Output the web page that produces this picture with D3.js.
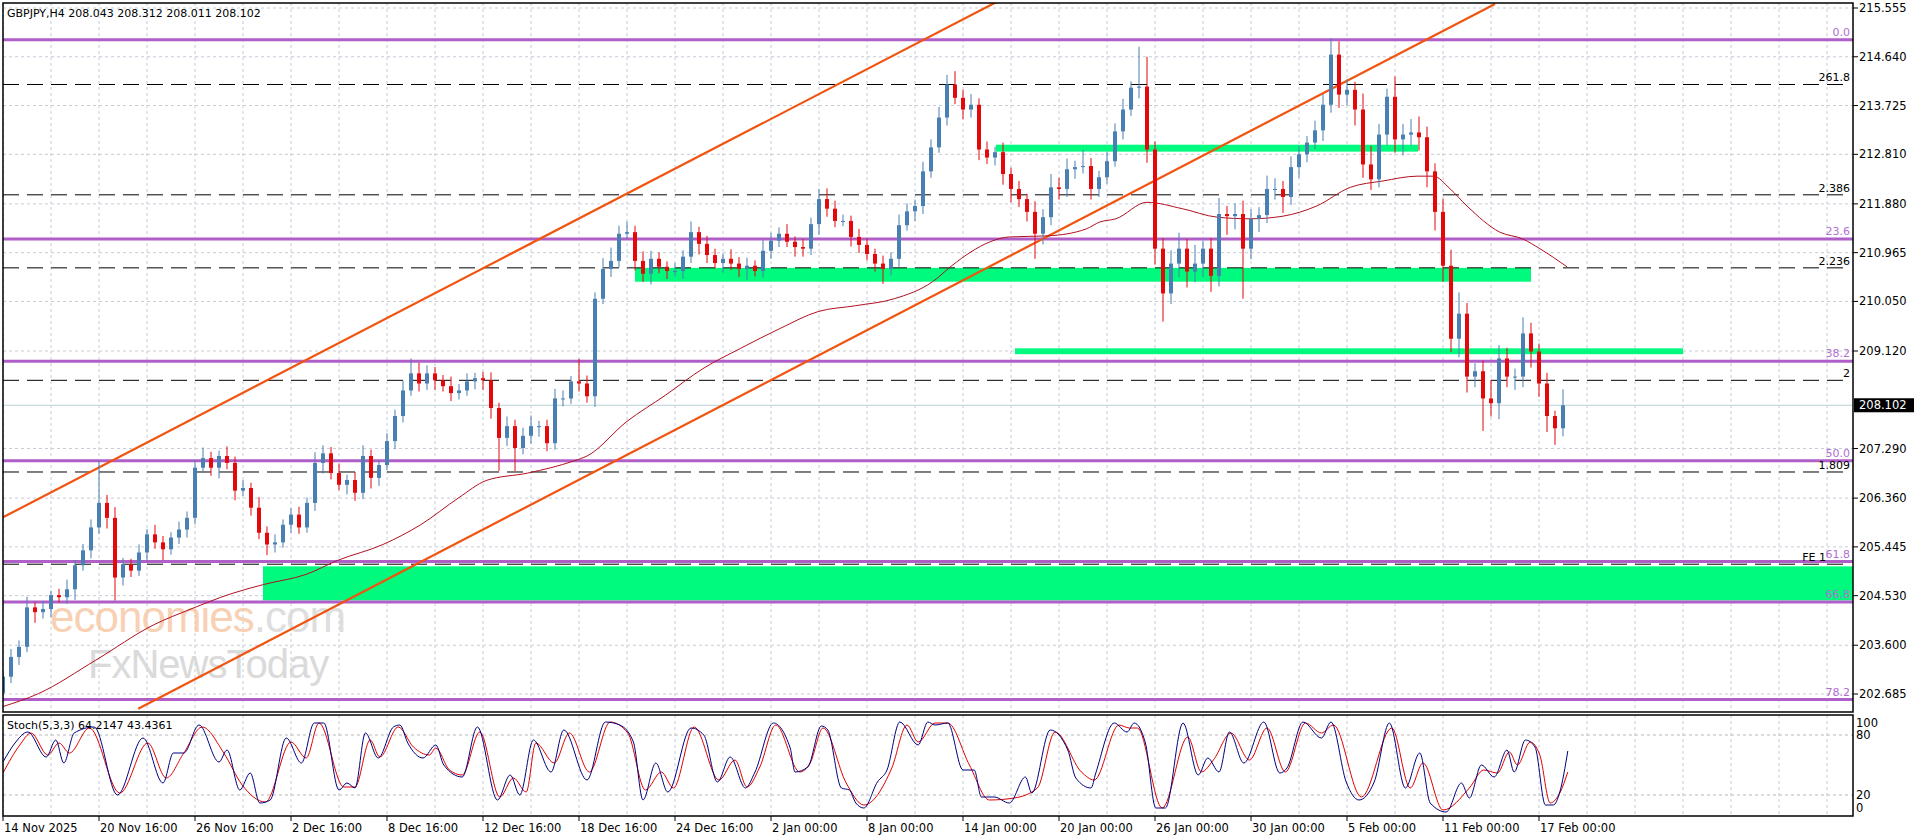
<!DOCTYPE html>
<html><head><meta charset="utf-8">
<script src="https://cdn.jsdelivr.net/npm/d3@7/dist/d3.min.js"></script>
<style>body{margin:0;background:#fff;}svg{display:block;font-family:"DejaVu Sans",sans-serif;}</style>
</head><body><svg id="c" width="1916" height="840"></svg>
<script>
const symbolTitle = "GBPJPY,H4  208.043 208.312 208.011 208.102";
const stochTitle = "Stoch(5,3,3) 64.2147 43.4361";
const firstOpen = 202.70;
const closes = [
203.01,203.38,203.57,204.31,204.22,204.28,204.54,204.50,204.65,205.10,205.38,205.81,
206.27,205.99,204.87,205.12,205.00,205.34,205.68,205.53,205.40,205.62,205.77,205.99,
206.93,207.11,206.93,207.15,207.02,206.50,206.55,206.18,205.71,205.49,205.53,205.86,
206.05,205.81,206.27,207.02,207.20,206.83,206.61,206.70,206.46,207.15,206.74,206.98,
207.43,207.90,208.38,208.70,208.51,208.70,208.57,208.46,208.33,208.38,208.55,208.61,
208.57,208.05,207.49,207.71,207.30,207.53,207.71,207.71,207.39,208.23,208.23,208.55,
208.51,208.27,210.10,210.66,210.81,211.32,211.35,210.81,210.57,210.85,210.70,210.62,
210.62,210.89,211.35,211.13,210.92,210.77,210.85,210.76,210.66,210.72,210.62,211.00,
211.19,211.32,211.17,211.07,211.04,211.50,211.97,211.79,211.56,211.56,211.26,211.11,
210.94,210.76,210.66,210.85,211.48,211.74,211.84,212.49,212.94,213.50,214.12,213.87,
213.65,213.74,212.90,212.75,212.85,212.44,212.16,211.97,211.73,211.32,211.63,212.19,
212.16,212.53,212.57,212.59,212.16,212.38,212.68,213.24,213.65,214.06,214.08,212.90,
211.04,210.20,210.76,211.04,210.61,210.76,211.04,210.53,211.69,211.65,211.69,211.04,
211.60,211.67,212.16,212.16,212.01,212.57,212.81,213.03,213.26,213.74,214.68,213.93,
214.02,213.65,212.62,212.34,213.18,213.89,213.09,213.18,213.22,213.13,212.49,211.73,
210.72,209.35,209.82,208.64,208.74,208.23,208.14,208.98,208.64,208.64,209.45,209.11,
208.51,207.90,207.67,208.102];
const wickUp = [
.10,.15,.12,.20,.10,.15,.08,.12,.18,.10,.12,.15,
.79,.15,.20,.12,.10,.15,.10,.18,.12,.10,.15,.12,
.15,.20,.12,.10,.18,.12,.15,.10,.20,.12,.15,.10,
.12,.15,.10,.20,.15,.12,.18,.10,.15,.20,.12,.10,
.15,.12,.18,.28,.20,.15,.12,.10,.18,.12,.15,.10,
.12,.15,.10,.18,.12,.15,.20,.10,.12,.18,.15,.10,
.42,.15,.12,.20,.25,.15,.20,.12,.18,.15,.12,.10,
.15,.12,.20,.10,.15,.12,.10,.18,.12,.15,.10,.20,
.15,.12,.18,.10,.15,.12,.19,.20,.15,.12,.10,.15,
.12,.10,.15,.12,.20,.15,.12,.18,.15,.20,.18,.25,
.15,.20,.12,.15,.10,.18,.12,.15,.10,.20,.15,.25,
.18,.20,.12,.30,.15,.12,.18,.15,.20,.12,.75,.56,
.15,.20,.25,.30,.18,.35,.15,.20,.30,.15,.20,.25,
.18,.15,.25,.20,.15,.20,.15,.12,.18,.20,.31,.25,
.20,.15,.30,.35,.20,.15,.38,.20,.25,.30,.20,.15,
.25,.30,.40,.20,.15,.20,.35,.25,.20,.15,.30,.20,
.15,.20,.10,.30];
const wickDn = [
.10,.12,.15,.10,.20,.12,.15,.10,.12,.20,.10,.15,
.12,.20,.43,.15,.12,.10,.15,.12,.20,.10,.12,.15,
.12,.10,.15,.20,.12,.18,.10,.15,.12,.20,.15,.10,
.15,.12,.10,.15,.20,.12,.10,.18,.15,.12,.20,.15,
.10,.15,.12,.10,.15,.12,.18,.10,.15,.12,.10,.15,
.18,.20,.62,.15,.43,.12,.15,.20,.15,.12,.15,.10,
.15,.12,.20,.10,.15,.12,.10,.18,.15,.20,.12,.15,
.10,.15,.12,.20,.15,.10,.18,.12,.15,.20,.10,.12,
.15,.12,.10,.18,.15,.12,.20,.15,.12,.10,.18,.15,
.12,.15,.28,.12,.15,.10,.18,.15,.12,.10,.15,.12,
.18,.15,.20,.12,.15,.20,.25,.15,.18,.47,.20,.15,
.20,.15,.18,.12,.20,.15,.12,.10,.15,.12,.20,.25,
.30,.53,.20,.25,.30,.20,.25,.30,.20,.35,.25,.94,
.20,.25,.15,.20,.30,.15,.20,.15,.12,.20,.15,.25,
.20,.30,.25,.20,.15,.20,.25,.30,.20,.25,.30,.35,
.30,.25,.35,.30,.20,.61,.25,.30,.20,.25,.20,.30,
.25,.30,.31,.15];
const maIdx = [0,4.4,11.6,18.8,23.5,28.4,32.6,37.9,41.8,47.5,52.2,57,60.4,65.6,71.4,73,78,82.8,87.5,92.2,97.1,101.9,106.6,111.4,116.2,118.6,121,123.4,125.8,130.6,135.4,137.1,139.1,143,147.4,151.8,155.9,160,164.2,168.4,172.5,176.8,178.8,180.9,183,187.1,190,192.1,195.5];
const maVal = [202.45,202.69,203.32,203.98,204.28,204.56,204.74,204.93,205.19,205.49,205.86,206.37,206.69,206.83,207.06,207.15,207.80,208.29,208.79,209.17,209.54,209.86,209.97,210.10,210.42,210.72,210.98,211.17,211.26,211.28,211.41,211.54,211.60,211.91,211.79,211.63,211.60,211.65,211.84,212.19,212.31,212.40,212.40,212.16,211.84,211.35,211.22,211.04,210.70];
const channelUpper = [[0,206.00],[124.6,215.70]];
const channelLower = [[16.9,202.41],[186.5,215.63]];
const fibLevels = [214.96,211.22,208.93,207.06,205.17,204.41,202.58];
const fibLabels = ["0.0","23.6","38.2","50.0","61.8","66.8","78.2"];
const dashLevels = [214.12,212.05,210.68,208.57,206.85,205.12];
const dashLabels = ["261.8","2.386","2.236","2","1.809","FE 1"];
const zones = [[32.5,231.3,205.08,204.44],[79,191,210.68,210.42],[124.1,176.9,212.99,212.86],[126.5,210,209.17,209.06]];
const priceTicks = [215.555,214.640,213.725,212.810,211.880,210.965,210.050,209.120,207.290,206.360,205.445,204.530,203.600,202.685];
const dateLabels = ["14 Nov 2025","20 Nov 16:00","26 Nov 16:00","2 Dec 16:00","8 Dec 16:00","12 Dec 16:00","18 Dec 16:00","24 Dec 16:00","2 Jan 00:00","8 Jan 00:00","14 Jan 00:00","20 Jan 00:00","26 Jan 00:00","30 Jan 00:00","5 Feb 00:00","11 Feb 00:00","17 Feb 00:00"];
const stochK = [[0,53],[1.5,72],[3.1,83],[5.4,58],[6.6,75],[7.6,52],[8.9,82],[11.4,88],[14.3,20],[17.5,77],[20,32],[21.3,62],[22.6,62],[24.5,90],[27,53],[28,65],[29.6,25],[30.9,42],[32.1,12],[33.4,15],[35.4,77],[37.3,52],[38.9,92],[40.1,92],[42,25],[43,32],[44,27],[45.3,82],[46.9,57],[48.8,88],[49.6,90],[50.6,72],[52.5,57],[54.1,70],[55.1,50],[57.4,38],[59.3,88],[61.8,15],[63.4,40],[64.6,20],[66.3,75],[68.5,43],[70.1,85],[73,35],[75.3,93],[77.1,90],[78.8,73],[80,15],[81.6,52],[83.1,23],[86,87],[87.6,80],[89.3,33],[90.9,58],[92.8,27],[94,43],[96.3,92],[98.4,67],[99,43],[100.6,48],[102.3,89],[103.1,85],[104.8,27],[105.8,25],[106.6,12],[107.6,7],[109.3,33],[110.5,45],[112.1,93],[114.4,70],[115.6,93],[116.5,90],[118.1,92],[120,45],[121.4,45],[122.3,18],[123.9,18],[125.8,12],[127.8,38],[128.6,22],[130.9,85],[133.1,65],[134.1,37],[136,27],[136.6,42],[138.9,92],[140.5,83],[141.4,92],[142.8,72],[144.1,7],[145.3,7],[147.5,92],[149.4,40],[150.6,57],[152,43],[153.3,83],[155.1,52],[157.6,93],[159.6,42],[160.5,47],[162.5,93],[164.8,77],[166,93],[167.9,33],[169.5,15],[171.4,33],[173.3,92],[175.3,27],[177.1,62],[178.4,12],[180.4,3],[182.3,32],[183.3,17],[184.8,50],[186.4,38],[188,65],[188.9,43],[190.3,75],[191.5,68],[192.8,10],[193.8,10],[194.6,23],[195.6,64]];
const stochD = [[0,42],[2.1,70],[3.5,82],[5.6,60],[7,72],[8.3,62],[10.8,87],[14.6,22],[18.1,72],[20.4,37],[22.6,62],[24.9,88],[27.6,62],[29.9,30],[32.8,13],[36,73],[37.9,57],[39.5,92],[42.6,28],[44,28],[45.9,75],[47.1,58],[49.4,88],[51.3,68],[53.3,60],[54.1,67],[55.8,45],[57.4,40],[59.6,83],[62.1,18],[63.8,37],[65.4,23],[66.6,72],[68.9,52],[70.8,82],[73.3,43],[75.9,93],[78.1,82],[80.3,25],[82.3,43],[83.8,27],[86.4,88],[89.5,35],[91.5,55],[93,28],[94.6,48],[96.6,90],[99.6,43],[100.9,52],[102.5,87],[105.4,32],[107.6,10],[111.1,47],[113,90],[114.4,73],[116.5,92],[118.1,92],[120.8,50],[123.3,15],[126.4,17],[129.3,27],[131.5,83],[134.8,43],[136.4,35],[139.5,90],[140.8,87],[141.8,87],[144.9,7],[148.1,78],[149.8,43],[151.3,55],[153.5,82],[155.8,55],[158,87],[160.3,43],[162.8,92],[164.8,82],[166.3,90],[169.8,18],[173.6,87],[175.9,27],[177.5,52],[180,5],[183.3,27],[185.1,45],[186.8,42],[188.3,63],[189.3,50],[190.9,73],[192.1,60],[193.4,12],[194.6,22],[195.6,43]];
const stochTicks = [100,80,20,0];

const svg = d3.select("#c");
const L=3, R=1853, T=3, B=712, ST=715, SB=816;
const x = d3.scaleLinear().domain([0,231.25]).range([L,R]);
const y = d3.scaleLinear().domain([215.555,202.685]).range([8,694]);
const ys = d3.scaleLinear().domain([0,100]).range([815,715]);
const defs = svg.append("defs");
defs.append("clipPath").attr("id","cm").append("rect").attr("x",L).attr("y",T).attr("width",R-L).attr("height",B-T);
defs.append("clipPath").attr("id","cs").append("rect").attr("x",L).attr("y",ST).attr("width",R-L).attr("height",SB-ST);
const gridC="#c5ccd6";
const vg = d3.range(0,232,6);
[[T,B],[ST,SB]].forEach(([a,b])=>{
  svg.append("g").selectAll("line").data(vg).join("line").attr("x1",d=>x(d)).attr("x2",d=>x(d)).attr("y1",a).attr("y2",b)
   .attr("stroke",gridC).attr("stroke-dasharray","3,3").attr("stroke-width",1);
});
svg.append("g").selectAll("line").data(priceTicks).join("line").attr("x1",L).attr("x2",R).attr("y1",d=>y(d)).attr("y2",d=>y(d))
  .attr("stroke",gridC).attr("stroke-dasharray","3,3");
svg.append("g").selectAll("line").data([80,20]).join("line").attr("x1",L).attr("x2",R).attr("y1",d=>ys(d)).attr("y2",d=>ys(d))
  .attr("stroke","#b8b8b8").attr("stroke-dasharray","3,3");
// watermark
const wm1 = svg.append("text").attr("x",50).attr("y",632).attr("font-size",44).attr("font-family","Arial,Liberation Sans,sans-serif").attr("opacity",0.85).attr("letter-spacing",-1);
wm1.append("tspan").attr("fill","#f7c9a8").text("economies");
wm1.append("tspan").attr("fill","#d9d9d9").text(".com");
svg.append("text").attr("x",88).attr("y",678).attr("font-size",40).attr("font-family","Arial,Liberation Sans,sans-serif").attr("fill","#d4d4d4").attr("opacity",0.85).attr("letter-spacing",-1).text("FxNewsToday");
const main = svg.append("g").attr("clip-path","url(#cm)");
main.selectAll("rect.z").data(zones).join("rect").attr("x",d=>x(d[0])).attr("width",d=>x(d[1])-x(d[0]))
 .attr("y",d=>y(d[2])).attr("height",d=>y(d[3])-y(d[2])).attr("fill","#00fa7d");
const lp = closes[closes.length-1];
main.append("line").attr("x1",L).attr("x2",R).attr("y1",y(lp)).attr("y2",y(lp)).attr("stroke","#b9cfd8");
main.selectAll("line.f").data(fibLevels).join("line").attr("x1",L).attr("x2",R).attr("y1",d=>y(d)).attr("y2",d=>y(d)).attr("stroke","#b05ec8").attr("stroke-width",3);
main.selectAll("line.d").data(dashLevels).join("line").attr("x1",L).attr("x2",R-10).attr("y1",d=>y(d)).attr("y2",d=>y(d)).attr("stroke","#000").attr("stroke-dasharray","16,8");
const ln = d3.line().x(d=>x(d[0])).y(d=>y(d[1]));
[channelUpper,channelLower].forEach(c=>main.append("path").attr("d",ln(c)).attr("stroke","#f0540f").attr("stroke-width",2.2).attr("fill","none"));
main.append("path").attr("d",d3.line().curve(d3.curveMonotoneX).x((d,i)=>x(maIdx[i])).y(d=>y(d))(maVal)).attr("stroke","#b01020").attr("fill","none").attr("stroke-width",1);
const candles = closes.map((c,i)=>{const o=i?closes[i-1]:firstOpen;return {i,o,c,h:Math.max(o,c)+wickUp[i],l:Math.min(o,c)-wickDn[i]};});
const cg = main.append("g");
cg.selectAll("line").data(candles).join("line").attr("x1",d=>x(d.i)).attr("x2",d=>x(d.i)).attr("y1",d=>y(d.h)).attr("y2",d=>y(d.l))
 .attr("stroke",d=>d.c>=d.o?"#4a7fb2":"#e4080a").attr("stroke-width",1);
cg.selectAll("rect").data(candles).join("rect").attr("x",d=>x(d.i)-2).attr("width",4)
 .attr("y",d=>y(Math.max(d.o,d.c))).attr("height",d=>Math.max(1,Math.abs(y(d.o)-y(d.c))))
 .attr("fill",d=>d.c>=d.o?"#4a7fb2":"#e4080a");
const lab = svg.append("g").attr("font-size",11).attr("text-anchor","end");
dashLevels.forEach((v,i)=>lab.append("text").attr("x",i==5?1826:1850).attr("y",y(v)-3).attr("fill","#000").text(dashLabels[i]));
fibLevels.forEach((v,i)=>lab.append("text").attr("x",1850).attr("y",y(v)-4).attr("fill","#b070d0").text(fibLabels[i]));
const sg = svg.append("g").attr("clip-path","url(#cs)");
const sl = d3.line().curve(d3.curveMonotoneX).x(d=>x(d[0])).y(d=>ys(d[1]));
sg.append("path").attr("d",sl(stochD)).attr("stroke","#e00000").attr("fill","none").attr("stroke-width",1);
sg.append("path").attr("d",sl(stochK)).attr("stroke","#000080").attr("fill","none").attr("stroke-width",1);
svg.append("rect").attr("x",L).attr("y",T).attr("width",R-L).attr("height",B-T).attr("fill","none").attr("stroke","#000").attr("stroke-width",1.5);
svg.append("rect").attr("x",L).attr("y",ST).attr("width",R-L).attr("height",SB-ST).attr("fill","none").attr("stroke","#000").attr("stroke-width",1.5);
const ax = svg.append("g").attr("font-size",11.5).attr("fill","#000");
priceTicks.forEach(v=>{ax.append("line").attr("x1",R).attr("x2",R+5).attr("y1",y(v)).attr("y2",y(v)).attr("stroke","#000");
  ax.append("text").attr("x",R+6).attr("y",y(v)+4).text(v.toFixed(3));});
const sOff={100:8,80:0,20:0,0:-7};
stochTicks.forEach(v=>{ax.append("text").attr("x",R+3).attr("y",ys(v)+4+sOff[v]).text(v);});
ax.append("rect").attr("x",R+1).attr("y",y(lp)-7).attr("width",60).attr("height",14).attr("fill","#000");
ax.append("text").attr("x",R+6).attr("y",y(lp)+4).attr("fill","#fff").text(lp.toFixed(3));
const dg = svg.append("g").attr("font-size",11.5);
dateLabels.forEach((t,k)=>{const xx=x(k*12);dg.append("line").attr("x1",xx).attr("x2",xx).attr("y1",SB).attr("y2",SB+5).attr("stroke","#000");
  dg.append("text").attr("x",xx+1).attr("y",832).text(t);});
svg.append("text").attr("x",7).attr("y",17).attr("font-size",11).text(symbolTitle);
svg.append("text").attr("x",7).attr("y",729).attr("font-size",11).text(stochTitle);
</script></body></html>
